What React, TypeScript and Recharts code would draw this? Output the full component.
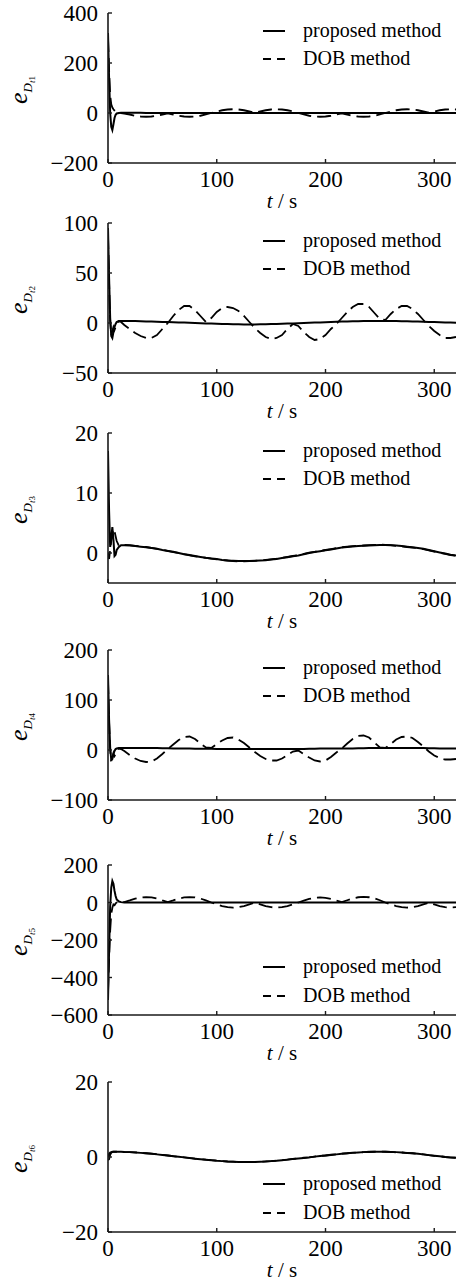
import React from 'react';
import { LineChart, Line, XAxis, YAxis } from 'recharts';

const FONT = '"Liberation Serif", "DejaVu Serif", "Times New Roman", serif';

const time = [0, 1, 2, 3, 4, 5, 6, 7, 8, 10, 12, 15,
  20, 25, 30, 35, 40, 45, 50, 55, 60, 65,
  70, 75, 80, 85, 90, 95, 100, 105, 110, 115,
  120, 125, 130, 135, 140, 145, 150, 155, 160, 165,
  170, 175, 180, 185, 190, 195, 200, 205, 210, 215,
  220, 225, 230, 235, 240, 245, 250, 255, 260, 265,
  270, 275, 280, 285, 290, 295, 300, 305, 310, 315,
  320];

const xTicks = [0, 100, 200, 300];

// Panel 1
const prop1 = [320, 140, 0, -55, -68, -45, -20, -7, -2, 0, 1, 1,
  1, 1, 1, 0, 0, 0, 0, 0, 0, 0,
  0, 0, 0, 0, 0, 0, 0, 0, 0, 0,
  0, 0, 0, 0, 0, 0, 0, 0, 0, 0,
  0, 0, 0, 0, 0, 0, 0, 0, 0, 0,
  0, 0, 0, 0, 0, 0, 0, 0, 0, 0,
  0, 0, 0, 0, 0, 0, 0, 0, 0, 0,
  0];
const dob1 = [300, 170, 70, 35, 22, 15, 10, 6, 4, 2, 0, -2,
  -6, -11, -14, -15, -14, -11, -6, -1, -6, -11,
  -14, -15, -14, -11, -6, 0, 6, 11, 14, 15,
  14, 11, 6, 1, 6, 11, 14, 15, 14, 11,
  6, 0, -6, -11, -14, -15, -14, -11, -6, -1,
  -6, -11, -14, -15, -14, -11, -6, 0, 6, 11,
  14, 15, 14, 11, 6, 1, 6, 11, 14, 15,
  14];
const yTicks1 = [-200, 0, 200, 400];

// Panel 2
const prop2 = [95, 45, 5, -13, -15, -9, -4, -1, 1, 2, 2, 2,
  2, 2, 1.8, 1.6, 1.5, 1.3, 1.1, 1, 0.8, 0.6,
  0.4, 0.2, 0, -0.2, -0.4, -0.6, -0.8, -1, -1.1, -1.2,
  -1.3, -1.4, -1.4, -1.4, -1.3, -1.2, -1.1, -1, -0.8, -0.6,
  -0.4, -0.2, 0, 0.2, 0.4, 0.6, 0.8, 1, 1.2, 1.4,
  1.5, 1.7, 1.8, 1.9, 2, 2, 2, 2, 2, 1.9,
  1.8, 1.7, 1.6, 1.5, 1.3, 1.1, 1, 0.8, 0.6, 0.4,
  0.3];
const dob2 = [88, 40, 2, -12, -8, -4, -7, -4, 0, 2, 1, -2,
  -6, -10, -13, -15, -15, -12, -6, 0, 7, 13,
  17, 17, 13, 7, 1, 5, 11, 15, 16, 15,
  12, 7, 1, -5, -10, -14, -16, -15, -12, -6,
  -1, -3, -9, -14, -17, -16, -12, -6, -1, 5,
  11, 16, 19, 19, 16, 10, 4, 3, 9, 14,
  17, 17, 14, 9, 3, -3, -8, -12, -15, -15,
  -14];
const yTicks2 = [-50, 0, 50, 100];

// Panel 3
const prop3 = [17, 7, 1, 2.5, 4.3, 2.2, -0.5, -0.3, 0.5, 1.0, 1.3, 1.3,
  1.25, 1.15, 1.05, 0.95, 0.85, 0.7, 0.5, 0.35, 0.2, 0.0,
  -0.2, -0.35, -0.5, -0.65, -0.8, -0.9, -1.0, -1.15, -1.25, -1.3,
  -1.35, -1.35, -1.35, -1.3, -1.25, -1.2, -1.1, -1.0, -0.85, -0.7,
  -0.55, -0.4, -0.2, 0.0, 0.15, 0.3, 0.45, 0.6, 0.75, 0.9,
  1.0, 1.1, 1.15, 1.2, 1.25, 1.3, 1.35, 1.35, 1.3, 1.25,
  1.15, 1.05, 0.95, 0.85, 0.7, 0.5, 0.3, 0.1, -0.1, -0.3,
  -0.4];
const dob3 = [0, -1, 0.5, 2, 3, 4, 3.6, 2.8, 2, 1.2, 1.3, 1.35,
  1.3, 1.2, 1.1, 1.0, 0.85, 0.7, 0.55, 0.35, 0.15, 0.0,
  -0.2, -0.4, -0.55, -0.7, -0.8, -0.95, -1.05, -1.15, -1.25, -1.35,
  -1.4, -1.4, -1.35, -1.3, -1.25, -1.15, -1.05, -0.95, -0.8, -0.65,
  -0.5, -0.35, -0.15, 0.05, 0.2, 0.35, 0.5, 0.65, 0.8, 0.95,
  1.05, 1.15, 1.2, 1.25, 1.3, 1.35, 1.4, 1.35, 1.3, 1.2,
  1.1, 1.0, 0.9, 0.8, 0.65, 0.45, 0.25, 0.05, -0.15, -0.35,
  -0.45];
const yTicks3 = [0, 10, 20];

// Panel 4
const prop4 = [150, 60, 5, -20, -18, -8, -2, 2, 3, 4, 4, 4,
  4, 4, 4, 4, 4, 3.8, 3.6, 3.4, 3.2, 3,
  3, 2.8, 2.6, 2.5, 2.4, 2.3, 2.2, 2.1, 2, 2,
  2, 2, 2, 2, 2, 2, 2, 2, 2, 2,
  2, 2, 2.2, 2.4, 2.6, 2.8, 3, 3, 3, 3,
  3, 3.2, 3.4, 3.6, 3.8, 4, 4, 4, 4, 4,
  4, 4, 4, 4, 3.8, 3.6, 3.4, 3.2, 3, 3,
  3];
const dob4 = [140, 55, 0, -22, -15, -6, -12, -8, -2, 3, 2, -2,
  -10, -17, -22, -24, -23, -17, -8, 2, 11, 20,
  26, 27, 22, 13, 5, 4, 12, 19, 24, 25,
  21, 14, 5, -4, -12, -18, -21, -21, -17, -10,
  -3, -1, -8, -15, -21, -23, -21, -14, -5, 3,
  13, 22, 28, 29, 25, 15, 5, 4, 12, 21,
  26, 27, 24, 16, 7, -3, -11, -16, -19, -19,
  -18];
const yTicks4 = [-100, 0, 100, 200];

// Panel 5
const prop5 = [-520, -260, -20, 80, 115, 100, 62, 35, 16, 5, 2, 0,
  0, 0, 0, 0, 0, 0, 0, 0, 0, 0,
  0, 0, 0, 0, 0, 0, 0, 0, 0, 0,
  0, 0, 0, 0, 0, 0, 0, 0, 0, 0,
  0, 0, 0, 0, 0, 0, 0, 0, 0, 0,
  0, 0, 0, 0, 0, 0, 0, 0, 0, 0,
  0, 0, 0, 0, 0, 0, 0, 0, 0, 0,
  0];
const dob5 = [-480, -300, -150, -60, -28, -10, -14, -5, 0, 4, 6, 2,
  11, 21, 27, 29, 27, 21, 11, 2, 11, 21,
  27, 29, 27, 21, 11, 0, -10, -19, -25, -27,
  -25, -19, -10, -1, -10, -19, -25, -27, -25, -19,
  -10, 0, 10, 19, 25, 27, 25, 19, 10, 2,
  12, 22, 28, 30, 28, 22, 12, 0, -10, -19,
  -25, -27, -25, -19, -10, -1, -10, -19, -25, -27,
  -25];
const yTicks5 = [-600, -400, -200, 0, 200];

// Panel 6
const prop6 = [0, 0.8, 1.2, 1.3, 1.4, 1.4, 1.4, 1.4, 1.4, 1.4, 1.4, 1.35,
  1.3, 1.2, 1.1, 1.0, 0.85, 0.7, 0.55, 0.4, 0.2, 0.05,
  -0.1, -0.3, -0.45, -0.6, -0.75, -0.85, -1.0, -1.1, -1.2, -1.25,
  -1.3, -1.3, -1.3, -1.3, -1.25, -1.2, -1.1, -1.0, -0.85, -0.7,
  -0.55, -0.4, -0.25, -0.1, 0.1, 0.25, 0.4, 0.55, 0.7, 0.85,
  1.0, 1.1, 1.2, 1.3, 1.35, 1.4, 1.4, 1.4, 1.35, 1.3,
  1.2, 1.1, 1.0, 0.85, 0.7, 0.5, 0.35, 0.2, 0.0, -0.1,
  -0.2];
const dob6 = [-0.8, -0.6, 0.6, 1.1, 1.3, 1.4, 1.4, 1.4, 1.4, 1.4, 1.4, 1.35,
  1.3, 1.25, 1.1, 1.0, 0.9, 0.75, 0.55, 0.4, 0.25, 0.05,
  -0.1, -0.25, -0.45, -0.6, -0.7, -0.85, -0.95, -1.1, -1.2, -1.25,
  -1.3, -1.35, -1.3, -1.3, -1.25, -1.15, -1.1, -0.95, -0.85, -0.7,
  -0.5, -0.4, -0.2, -0.1, 0.1, 0.3, 0.4, 0.6, 0.7, 0.9,
  1.0, 1.15, 1.2, 1.3, 1.4, 1.4, 1.45, 1.4, 1.35, 1.25,
  1.2, 1.05, 1.0, 0.8, 0.7, 0.5, 0.3, 0.2, 0.0, -0.15,
  -0.2];
const yTicks6 = [-20, 0, 20];

const legendLabels = ['proposed method', 'DOB method'];

const W = 459;
const MT = 15;
const PH = 150;
const XH = 60;
const H = MT + PH + XH;
const PL = 108;
const PR = 456;
const AX = '#1a1a1a';

const fmt = (v: number) => (v < 0 ? `\u2212${Math.abs(v)}` : `${v}`);

type PanelProps = {
  plotTop: number;
  idx: number;
  prop: number[];
  dob: number[];
  domain: [number, number];
  ticks: number[];
  legendLow: boolean;
};

function Panel({ plotTop, idx, prop, dob, domain, ticks, legendLow }: PanelProps) {
  const data = time.map((t, i) => ({ t, p: prop[i], d: dob[i] }));
  const rows = legendLow ? [MT + 102, MT + 131] : [MT + 18, MT + 46];
  const cy = MT + PH / 2 + 2;
  return (
    <div style={{ position: 'absolute', left: 0, top: plotTop - MT, width: W, height: H }}>
      <LineChart width={W} height={H} data={data} margin={{ top: MT, right: W - PR, bottom: 0, left: 0 }}>
        <XAxis
          xAxisId="b"
          dataKey="t"
          type="number"
          domain={[0, 320]}
          ticks={xTicks}
          interval={0}
          orientation="bottom"
          height={XH}
          tickSize={-4}
          tickMargin={12}
          allowDataOverflow
          tick={{ fill: '#000', fontSize: 23, fontFamily: FONT }}
          axisLine={{ stroke: AX, strokeWidth: 1.6 }}
          tickLine={{ stroke: AX, strokeWidth: 1.4 }}
        />
        <XAxis
          xAxisId="top"
          dataKey="t"
          type="number"
          domain={[0, 320]}
          orientation="top"
          height={0}
          tick={false}
          tickLine={false}
          axisLine={{ stroke: AX, strokeWidth: 1.6 }}
        />
        <YAxis
          yAxisId="l"
          type="number"
          domain={domain}
          ticks={ticks}
          interval={0}
          width={PL}
          tickSize={-4}
          tickMargin={14}
          allowDataOverflow
          tickFormatter={fmt}
          tick={{ fill: '#000', fontSize: 23, fontFamily: FONT }}
          axisLine={{ stroke: AX, strokeWidth: 1.6 }}
          tickLine={{ stroke: AX, strokeWidth: 1.4 }}
        />
        <YAxis
          yAxisId="r"
          type="number"
          orientation="right"
          domain={domain}
          width={0}
          tick={false}
          tickLine={false}
          axisLine={{ stroke: AX, strokeWidth: 1.6 }}
        />
        <Line
          xAxisId="b"
          yAxisId="l"
          dataKey="d"
          type="linear"
          stroke="#000"
          strokeWidth={1.8}
          strokeDasharray="14 6"
          dot={false}
          activeDot={false}
          isAnimationActive={false}
        />
        <Line
          xAxisId="b"
          yAxisId="l"
          dataKey="p"
          type="linear"
          stroke="#000"
          strokeWidth={2}
          dot={false}
          activeDot={false}
          isAnimationActive={false}
        />
      </LineChart>
      <svg
        width={W}
        height={H}
        style={{ position: 'absolute', left: 0, top: 0, pointerEvents: 'none', fontFamily: FONT }}
      >
        <line x1={263} x2={285} y1={rows[0]} y2={rows[0]} stroke="#000" strokeWidth={2} />
        <text x={303} y={rows[0] + 6} fontSize={20} fill="#000">{legendLabels[0]}</text>
        <line x1={263} x2={285} y1={rows[1]} y2={rows[1]} stroke="#000" strokeWidth={1.8} strokeDasharray="8 6" />
        <text x={303} y={rows[1] + 6} fontSize={20} fill="#000">{legendLabels[1]}</text>
        <text x={(PL + PR) / 2} y={MT + PH + 45} fontSize={21} textAnchor="middle" fill="#000">
          <tspan fontStyle="italic">t</tspan>
          <tspan> / s</tspan>
        </text>
        <text transform={`translate(27, ${cy}) rotate(-90)`} textAnchor="middle" fill="#000">
          <tspan fontSize={26} fontStyle="italic">e</tspan>
          <tspan fontSize={13} fontStyle="italic" dy={5}>D</tspan>
          <tspan fontSize={9} fontStyle="italic" dy={3}>t</tspan>
          <tspan fontSize={9}>{idx}</tspan>
        </text>
      </svg>
    </div>
  );
}

export default function App() {
  return (
    <div style={{ position: 'absolute', left: 0, top: 0, width: W, height: 1286, background: '#fff' }}>
      <Panel plotTop={13} idx={1} prop={prop1} dob={dob1} domain={[-200, 400]} ticks={yTicks1} legendLow={false} />
      <Panel plotTop={223} idx={2} prop={prop2} dob={dob2} domain={[-50, 100]} ticks={yTicks2} legendLow={false} />
      <Panel plotTop={433} idx={3} prop={prop3} dob={dob3} domain={[-5, 20]} ticks={yTicks3} legendLow={false} />
      <Panel plotTop={650} idx={4} prop={prop4} dob={dob4} domain={[-100, 200]} ticks={yTicks4} legendLow={false} />
      <Panel plotTop={865} idx={5} prop={prop5} dob={dob5} domain={[-600, 200]} ticks={yTicks5} legendLow={true} />
      <Panel plotTop={1082} idx={6} prop={prop6} dob={dob6} domain={[-20, 20]} ticks={yTicks6} legendLow={true} />
    </div>
  );
}
